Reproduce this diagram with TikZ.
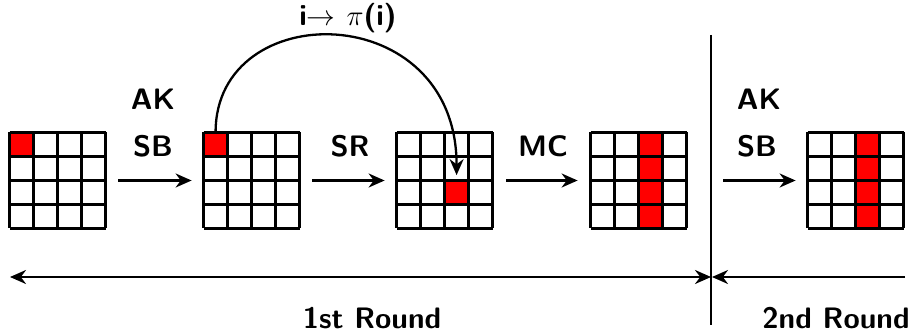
\documentclass[tikz,border=0pt]{standalone}
\usetikzlibrary{arrows.meta,calc}
\tikzset{
  x=0.5pt, y=-0.5pt,
  gridline/.style={line width=1.5pt},
  lab/.style={font=\sffamily\bfseries\fontsize{14.8}{16}\selectfont, inner sep=0pt},
  tip/.tip={Stealth[length=8pt,width=7pt]},
  flow/.style={-tip, line width=1.15pt},
  state/.style={inner sep=0pt, minimum size=48pt, draw=none},
}
% draw the 4x4 cell grid of a state node
\newcommand\cellgrid[1]{%
  \foreach \k in {0,...,4}{
    \draw[gridline] ($(#1.north west)+(\k*24,0)$) -- ++(0,96);
    \draw[gridline] ($(#1.north west)+(0,\k*24)$) -- ++(96,0);
  }}
% fill one cell (column, row) of a state node in red
\newcommand\redcell[3]{%
  \fill[red] ($(#1.north west)+(#2*24,#3*24)$) rectangle ++(24,24);}
\begin{document}
\begin{tikzpicture}
\useasboundingbox (0,0) rectangle (914,336);

% states
\node[state] (g1) at (58,180.5) {};
\node[state] (g2) at (252,180.5) {};
\node[state] (g3) at (445,180.5) {};
\node[state] (g4) at (639,180.5) {};
\node[state] (g5) at (856,180.5) {};

\redcell{g1}{0}{0}
\redcell{g2}{0}{0}
\redcell{g3}{2}{2}
\foreach \r in {0,...,3}{\redcell{g4}{2}{\r}\redcell{g5}{2}{\r}}
\foreach \g in {g1,g2,g3,g4,g5}{\cellgrid{\g}}

% transformations
\draw[flow, shorten <=6pt, shorten >=6pt] (g1) -- (g2);
\draw[flow, shorten <=6pt, shorten >=6pt] (g2) -- (g3);
\draw[flow, shorten <=6.5pt, shorten >=6.5pt] (g3) -- (g4);
\draw[flow, shorten <=18pt, shorten >=6pt] (g4) -- (g5);

\node[lab] (ak1) at (153,99) {AK};
\node[lab] (sb1) at (153,146) {SB};
\node[lab] (sr) at (350,146) {SR};
\node[lab] (mc) at (543,146) {MC};
\node[lab] (ak2) at (759,99) {AK};
\node[lab] (sb2) at (757,146) {SB};

% permutation of one cell
\coordinate (src) at ($(g2.north west)+(12,0)$);
\coordinate (dst) at ($(g3.north west)+(60,43)$);
\draw[flow] (src) .. controls ($(src)+(0,-136)$) and ($(dst)+(0,-178)$) .. (dst);
\node[lab] (perm) at (348,18) {i$\rightarrow$ $\pi$(i)};

% round separator and extents
\coordinate (sepTop) at (711,35);
\coordinate (sepBot) at (711,325);
\draw[line width=1.15pt] (sepTop) -- (sepBot);
\coordinate (r1L) at (10,277);
\coordinate (r1R) at (711,277);
\coordinate (r2R) at (905,277);
\coordinate (r2L) at (712,277);
\draw[flow, tip-tip] (r1L) -- (r1R);
\draw[flow] (r2R) -- (r2L);
\node[lab] (round1) at (372,318) {1st Round};
\node[lab] (round2) at (836,318) {2nd Round};
\end{tikzpicture}
\end{document}
